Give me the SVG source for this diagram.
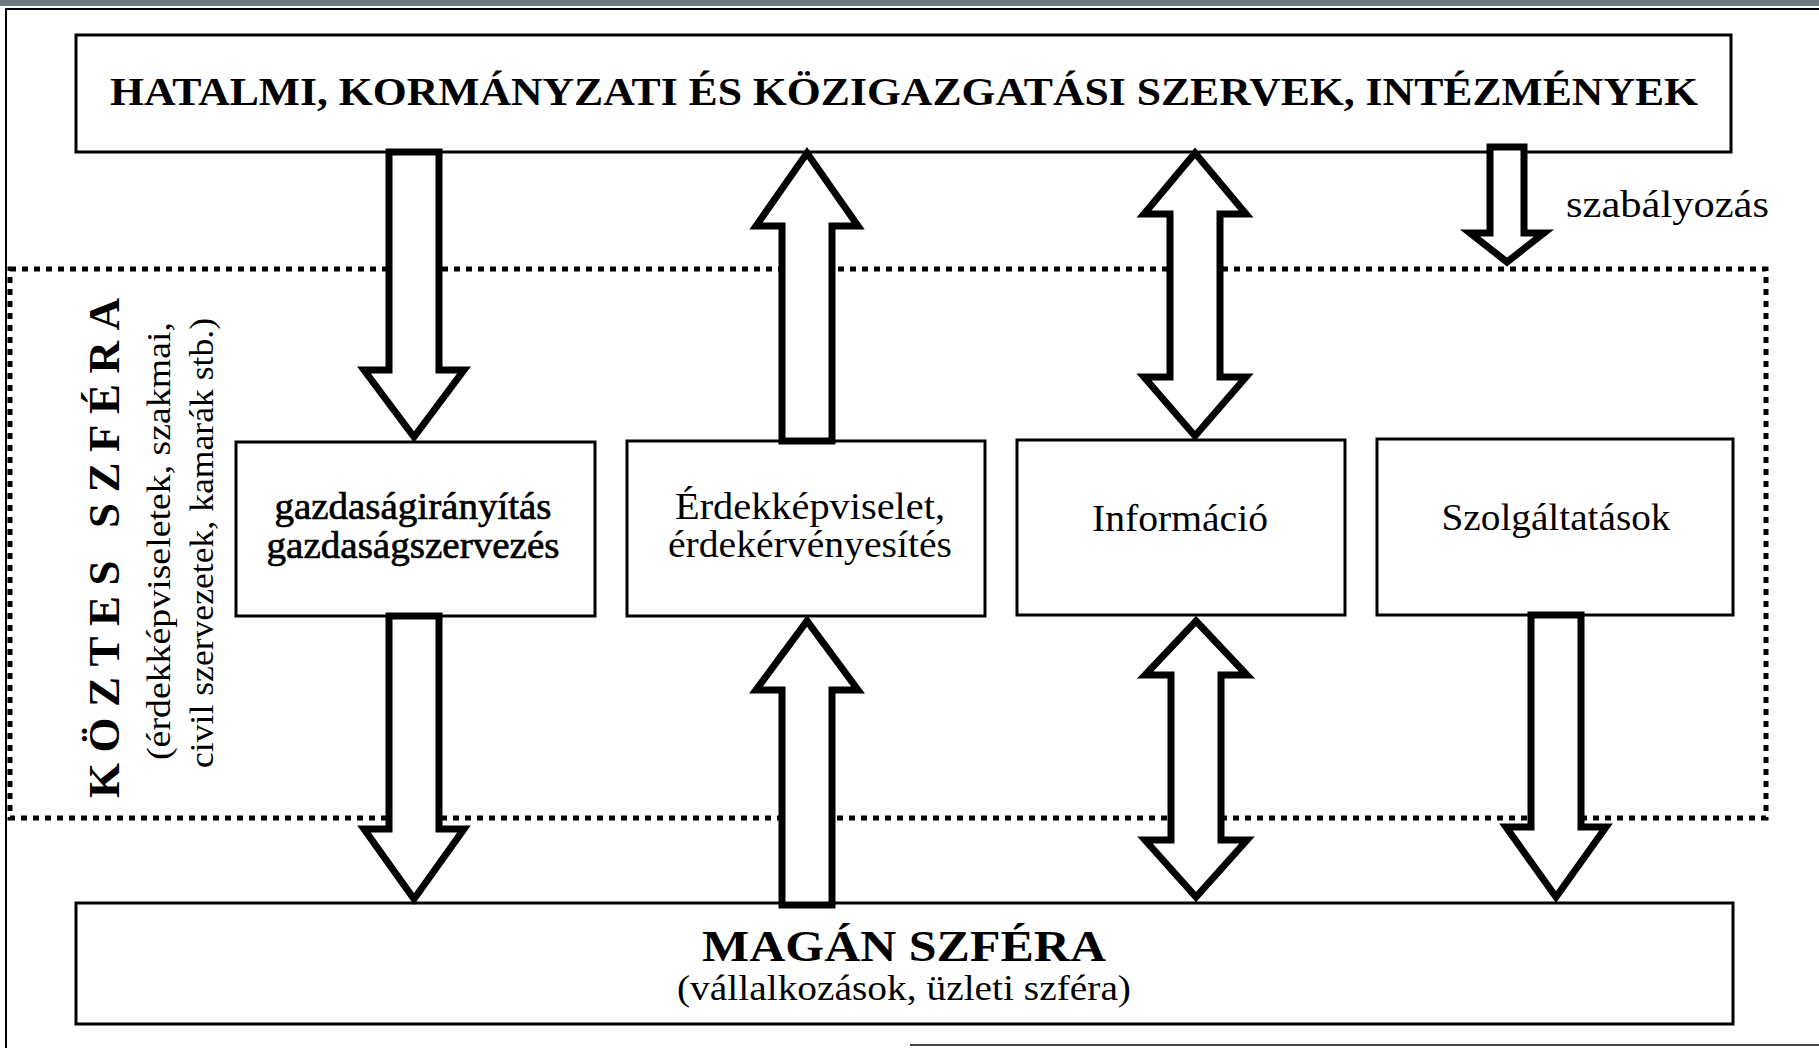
<svg xmlns="http://www.w3.org/2000/svg" width="1819" height="1048" viewBox="0 0 1819 1048">
<style>
.box{fill:#fff;stroke:#000;stroke-width:3}
.arrow{fill:#fff;stroke:#000;stroke-width:7;stroke-linejoin:miter;stroke-miterlimit:10}
.t{font-family:"Liberation Serif","Times New Roman",serif;fill:#000}
.b{font-weight:bold}
.heavy{stroke:#000;stroke-width:0.7}
.zone{fill:none;stroke:#000;stroke-width:5;stroke-dasharray:6 6}
</style>
<rect width="1819" height="1048" fill="#fff"/>
<rect x="0" y="0" width="1819" height="6" fill="#6d7a85"/>
<path d="M6,1048 V9 H1819" fill="none" stroke="#000" stroke-width="2"/>
<line x1="910" y1="1045" x2="1819" y2="1045" stroke="#444" stroke-width="2"/>

<g id="koztes-szfera">
<rect class="zone" x="10" y="269" width="1756" height="549"/>
<text class="t b" transform="translate(119,548) rotate(-90)" font-size="45" text-anchor="middle" textLength="500" lengthAdjust="spacing">KÖZTES SZFÉRA</text>
<text class="t" transform="translate(170,541) rotate(-90)" font-size="34" text-anchor="middle" textLength="438" lengthAdjust="spacingAndGlyphs">(érdekképviseletek, szakmai,</text>
<text class="t" transform="translate(213,543) rotate(-90)" font-size="34" text-anchor="middle" textLength="450" lengthAdjust="spacingAndGlyphs">civil szervezetek, kamarák stb.)</text>
</g>

<g id="hatalmi">
<rect class="box" x="76" y="35" width="1655" height="117"/>
<text class="t b" x="904" y="105" font-size="40" text-anchor="middle" textLength="1588" lengthAdjust="spacingAndGlyphs">HATALMI, KORMÁNYZATI ÉS KÖZIGAZGATÁSI SZERVEK, INTÉZMÉNYEK</text>
</g>

<g id="gazdasagiranyitas">
<rect class="box" x="236" y="442" width="359" height="174"/>
<text class="t heavy" x="413" y="519" font-size="38" text-anchor="middle" textLength="277" lengthAdjust="spacingAndGlyphs">gazdaságirányítás</text>
<text class="t heavy" x="413" y="558" font-size="38" text-anchor="middle" textLength="293" lengthAdjust="spacingAndGlyphs">gazdaságszervezés</text>
</g>

<g id="erdekkepviselet">
<rect class="box" x="627" y="441" width="358" height="175"/>
<text class="t" x="810" y="519" font-size="37" text-anchor="middle" textLength="270" lengthAdjust="spacingAndGlyphs">Érdekképviselet,</text>
<text class="t" x="810" y="557" font-size="37" text-anchor="middle" textLength="284" lengthAdjust="spacingAndGlyphs">érdekérvényesítés</text>
</g>

<g id="informacio">
<rect class="box" x="1017" y="440" width="328" height="175"/>
<text class="t" x="1180" y="531" font-size="38" text-anchor="middle" textLength="176" lengthAdjust="spacingAndGlyphs">Információ</text>
</g>

<g id="szolgaltatasok">
<rect class="box" x="1377" y="439" width="356" height="176"/>
<text class="t" x="1556" y="530" font-size="38" text-anchor="middle" textLength="229" lengthAdjust="spacingAndGlyphs">Szolgáltatások</text>
</g>

<g id="magan-szfera">
<rect class="box" x="76" y="903" width="1657" height="121"/>
<text class="t b" x="904" y="961" font-size="45" text-anchor="middle" textLength="404" lengthAdjust="spacingAndGlyphs">MAGÁN SZFÉRA</text>
<text class="t" x="904" y="1000" font-size="35" text-anchor="middle" textLength="454" lengthAdjust="spacingAndGlyphs">(vállalkozások, üzleti szféra)</text>
</g>

<g id="connectors">
<path class="arrow" d="M389,152 H439 V370 H464 L414,437 L364,370 H389 Z"/>
<path class="arrow" d="M782,441 V226 H756 L807,153 L858,226 H832 V441 Z"/>
<path class="arrow" d="M1195,153 L1246,214 H1220 V377 H1246 L1195,436 L1144,377 H1170 V214 H1144 Z"/>
<path class="arrow" d="M1490,147 H1524 V233 H1544 L1507,262 L1470,233 H1490 Z"/>
<path class="arrow" d="M389,616 H439 V829 H464 L414,899 L364,829 H389 Z"/>
<path class="arrow" d="M782,905 V690 H756 L807,621 L858,690 H832 V905 Z"/>
<path class="arrow" d="M1196,621 L1247,675 H1221 V840 H1247 L1196,897 L1145,840 H1171 V675 H1145 Z"/>
<path class="arrow" d="M1531,615 H1581 V827 H1606 L1556,897 L1506,827 H1531 Z"/>
</g>

<g id="szabalyozas-label">
<text class="t" x="1566" y="217" font-size="38" textLength="203" lengthAdjust="spacingAndGlyphs">szabályozás</text>
</g>
</svg>
